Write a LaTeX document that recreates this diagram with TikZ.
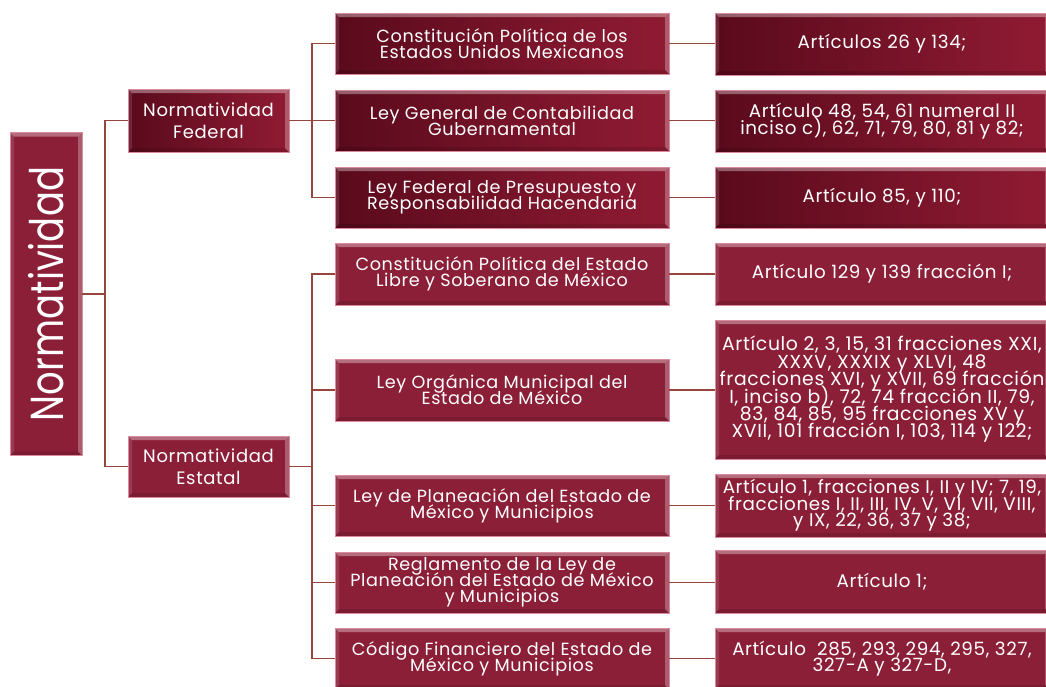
\documentclass[tikz,border=0pt]{standalone}
\usepackage{fontspec}
\setmainfont{Poppins}[LetterSpace=3.5]
\newfontfamily\rootfont{Poppins}
\definecolor{fedL}{HTML}{5A0A1C}
\definecolor{fedR}{HTML}{901B33}
\definecolor{estC}{HTML}{8B1F38}
\definecolor{lineC}{HTML}{94463A}
\definecolor{edgeC}{HTML}{D98A9C}
\newcommand{\fs}[2]{\fontsize{#1}{#2}\selectfont\lineskiplimit=-100pt\lineskip=0pt}
\tikzset{
  bev/.style={path picture={
    \fill[white,opacity=.35] (path picture bounding box.north west) -- (path picture bounding box.north east) -- ([shift={(-4pt,-4pt)}]path picture bounding box.north east) -- ([shift={(4pt,-4pt)}]path picture bounding box.north west) -- cycle;
    \fill[white,opacity=.28] (path picture bounding box.north east) -- (path picture bounding box.south east) -- ([shift={(-4pt,4pt)}]path picture bounding box.south east) -- ([shift={(-4pt,-4pt)}]path picture bounding box.north east) -- cycle;
    \fill[white,opacity=.12] (path picture bounding box.north west) -- (path picture bounding box.south west) -- ([shift={(4pt,4pt)}]path picture bounding box.south west) -- ([shift={(4pt,-4pt)}]path picture bounding box.north west) -- cycle;
    \fill[black,opacity=.12] (path picture bounding box.south west) -- (path picture bounding box.south east) -- ([shift={(-4pt,4pt)}]path picture bounding box.south east) -- ([shift={(4pt,4pt)}]path picture bounding box.south west) -- cycle;
  }},
}
\begin{document}
\begin{tikzpicture}[x=1pt,y=-1pt,
  box/.style={rectangle, inner sep=0pt, text=white, align=center,
    font=\fs{17.6}{16.2}, draw=edgeC, line width=0.6pt, bev},
  fedbox/.style={box, left color=fedL, right color=fedR},
  estbox/.style={box, fill=estC},
  lcol/.style={minimum width=334pt, minimum height=61pt},
  rcol/.style={minimum width=334pt, minimum height=62pt, font=\fs{18.3}{16.5}},
  conn/.style={draw=lineC, line width=1.3pt}]
\useasboundingbox (0,0) rectangle (1046,686);

% root
\node[estbox, minimum width=72pt, minimum height=323pt] (root) at (46,294)
  {\rotatebox{90}{\scalebox{1}[1.25]{\rootfont\fontsize{37}{37}\selectfont Normatividad}}};

% second level
\node[fedbox, minimum width=161pt, minimum height=63pt, font=\fs{18}{22}] (fed) at (208.5,120.5) {Normatividad\\Federal};
\node[estbox, minimum width=161pt, minimum height=61pt, font=\fs{18}{22}] (est) at (208.5,466.5) {Normatividad\\Estatal};

% federal laws
\node[fedbox, lcol] (f1) at (502,43.5) {Constitución Política de los\\Estados Unidos Mexicanos};
\node[fedbox, lcol] (f2) at (502,120.5) {Ley General de Contabilidad\\Gubernamental};
\node[fedbox, lcol] (f3) at (502,197.5) {Ley Federal de Presupuesto y\\Responsabilidad Hacendaria};

% state laws
\node[estbox, lcol, minimum height=62pt] (e1) at (502,274) {Constitución Política del Estado\\Libre y Soberano de México};
\node[estbox, lcol, minimum height=62pt] (e2) at (502,390) {Ley Orgánica Municipal del\\Estado de México};
\node[estbox, lcol] (e3) at (502,505.5) {Ley de Planeación del Estado de\\México y Municipios};
\node[estbox, lcol] (e4) at (502,582.5) {Reglamento de la Ley de\\Planeación del Estado de México\\y Municipios};
\node[estbox, lcol] (e5) at (502,658.5) {Código Financiero del Estado de\\México y Municipios};

% articles
\node[fedbox, rcol] (r1) at (882,44) {Artículos 26 y 134;};
\node[fedbox, rcol] (r2) at (882,121) {Artículo 48, 54, 61 numeral II\\inciso c), 62, 71, 79, 80, 81 y 82;};
\node[fedbox, rcol, minimum height=61pt] (r3) at (882,197.5) {Artículo 85, y 110;};
\node[estbox, rcol] (r4) at (882,274) {Artículo 129 y 139 fracción I;};
\node[estbox, rcol, minimum height=139pt, font=\fs{18.8}{17.4}] (r5) at (882,389.5) {Artículo 2, 3, 15, 31 fracciones XXI,\\XXXV, XXXIX y XLVI, 48\\fracciones XVI, y XVII, 69 fracción\\I, inciso b), 72, 74 fracción II, 79,\\83, 84, 85, 95 fracciones XV y\\XVII, 101 fracción I, 103, 114 y 122;};
\node[estbox, rcol, minimum height=63pt] (r6) at (882,505.5) {Artículo 1, fracciones I, II y IV; 7, 19,\\fracciones I, II, III, IV, V, VI, VII, VIII,\\y IX, 22, 36, 37 y 38;};
\node[estbox, rcol, minimum height=63pt] (r7) at (882,581.5) {Artículo 1;};
\node[estbox, rcol, minimum height=61pt] (r8) at (882,658.5) {Artículo~~285, 293, 294, 295, 327,\\327-A y 327-D,};

% connectors
\coordinate (b0) at (105,294);
\coordinate (b1) at (312,120.5);
\coordinate (b2) at (312,466.5);
\draw[conn] (root.east) -- (b0);
\draw[conn] (b0) |- (fed.west);
\draw[conn] (b0) |- (est.west);
\draw[conn] (fed.east) -- (b1);
\draw[conn] (b1) |- (f1.west);
\draw[conn] (b1) -- (f2.west);
\draw[conn] (b1) |- (f3.west);
\draw[conn] (est.east) -- (b2);
\draw[conn] (b2) |- (e1.west);
\draw[conn] (b2) |- (e2.west);
\draw[conn] (b2) |- (e3.west);
\draw[conn] (b2) |- (e4.west);
\draw[conn] (b2) |- (e5.west);
\foreach \i in {1,2,3} {\draw[conn] (f\i.east) -- (f\i.east -| r\i.west);}
\draw[conn] (e1.east) -- (e1.east -| r4.west);
\draw[conn] (e2.east) -- (e2.east -| r5.west);
\draw[conn] (e3.east) -- (e3.east -| r6.west);
\draw[conn] (e4.east) -- (e4.east -| r7.west);
\draw[conn] (e5.east) -- (e5.east -| r8.west);
\end{tikzpicture}
\end{document}
